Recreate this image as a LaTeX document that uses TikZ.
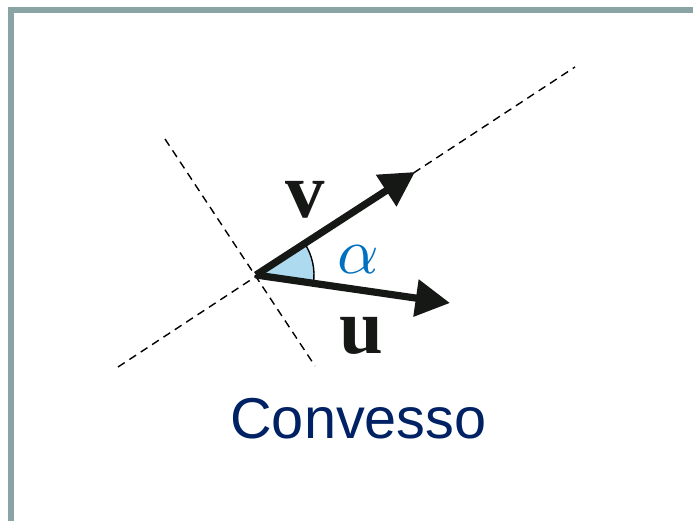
\documentclass[tikz,border=0pt]{standalone}
\usepackage{fontspec}
\usepackage{xcolor}
\usepackage{tikz}
\usetikzlibrary{positioning, arrows.meta, calc}
\setmainfont{Liberation Serif}
\newfontfamily\labfont{Liberation Sans}
\definecolor{framec}{RGB}{138,164,166}
\definecolor{anglefill}{RGB}{174,218,240}
\definecolor{alphac}{RGB}{0,112,192}
\definecolor{navy}{RGB}{0,33,99}
\definecolor{inkc}{RGB}{22,24,22}

\begin{document}
\begin{tikzpicture}[
  vec/.style={draw=inkc, line width=0.18cm, -{Triangle[length=0.86cm, width=0.9cm]}},
  guide/.style={draw=black, line width=0.035cm, dash pattern=on 0.2cm off 0.14cm},
  lab/.style={inner sep=0pt, text=inkc, font=\fontsize{56}{60}\selectfont\bfseries}]
\useasboundingbox (0,0) rectangle (17.325,13.025);
\draw[framec, line width=0.15cm] (0.275,0) -- (0.275,12.775) -- (17.325,12.775);
\coordinate (o) at (6.4,6.15);
\coordinate (vtip) at (10.375,8.725);
\coordinate (utip) at (11.25,5.45);
\coordinate (g1a) at (2.95,3.85);
\coordinate (g1b) at (14.375,11.35);
\coordinate (g2a) at (4.125,9.55);
\coordinate (g2b) at (7.875,3.875);
\draw[guide] (g1a) -- (g1b);
\draw[guide] (g2a) -- (g2b);
\fill[anglefill] (o) -- ++(-8.2:1.45) arc[start angle=-8.2, end angle=33, radius=1.45] -- cycle;
\draw[black, line width=0.035cm] ($(o)+(-8.2:1.45)$) arc[start angle=-8.2, end angle=33, radius=1.45];
\draw[vec] (o) -- (vtip);
\draw[vec] (o) -- (utip);
\node[lab] (vlab) at (7.625,8.025) {v};
\node[lab] (ulab) at (9.025,4.625) {u};
\node[inner sep=0pt, text=alphac, scale=4.6] (alab) at (8.95,6.525) {$\alpha$};
\node[inner sep=0pt, text=navy, font=\labfont\fontsize{41}{45}\selectfont] (title) at (8.9625,2.5625) {Convesso};
\end{tikzpicture}
\end{document}
